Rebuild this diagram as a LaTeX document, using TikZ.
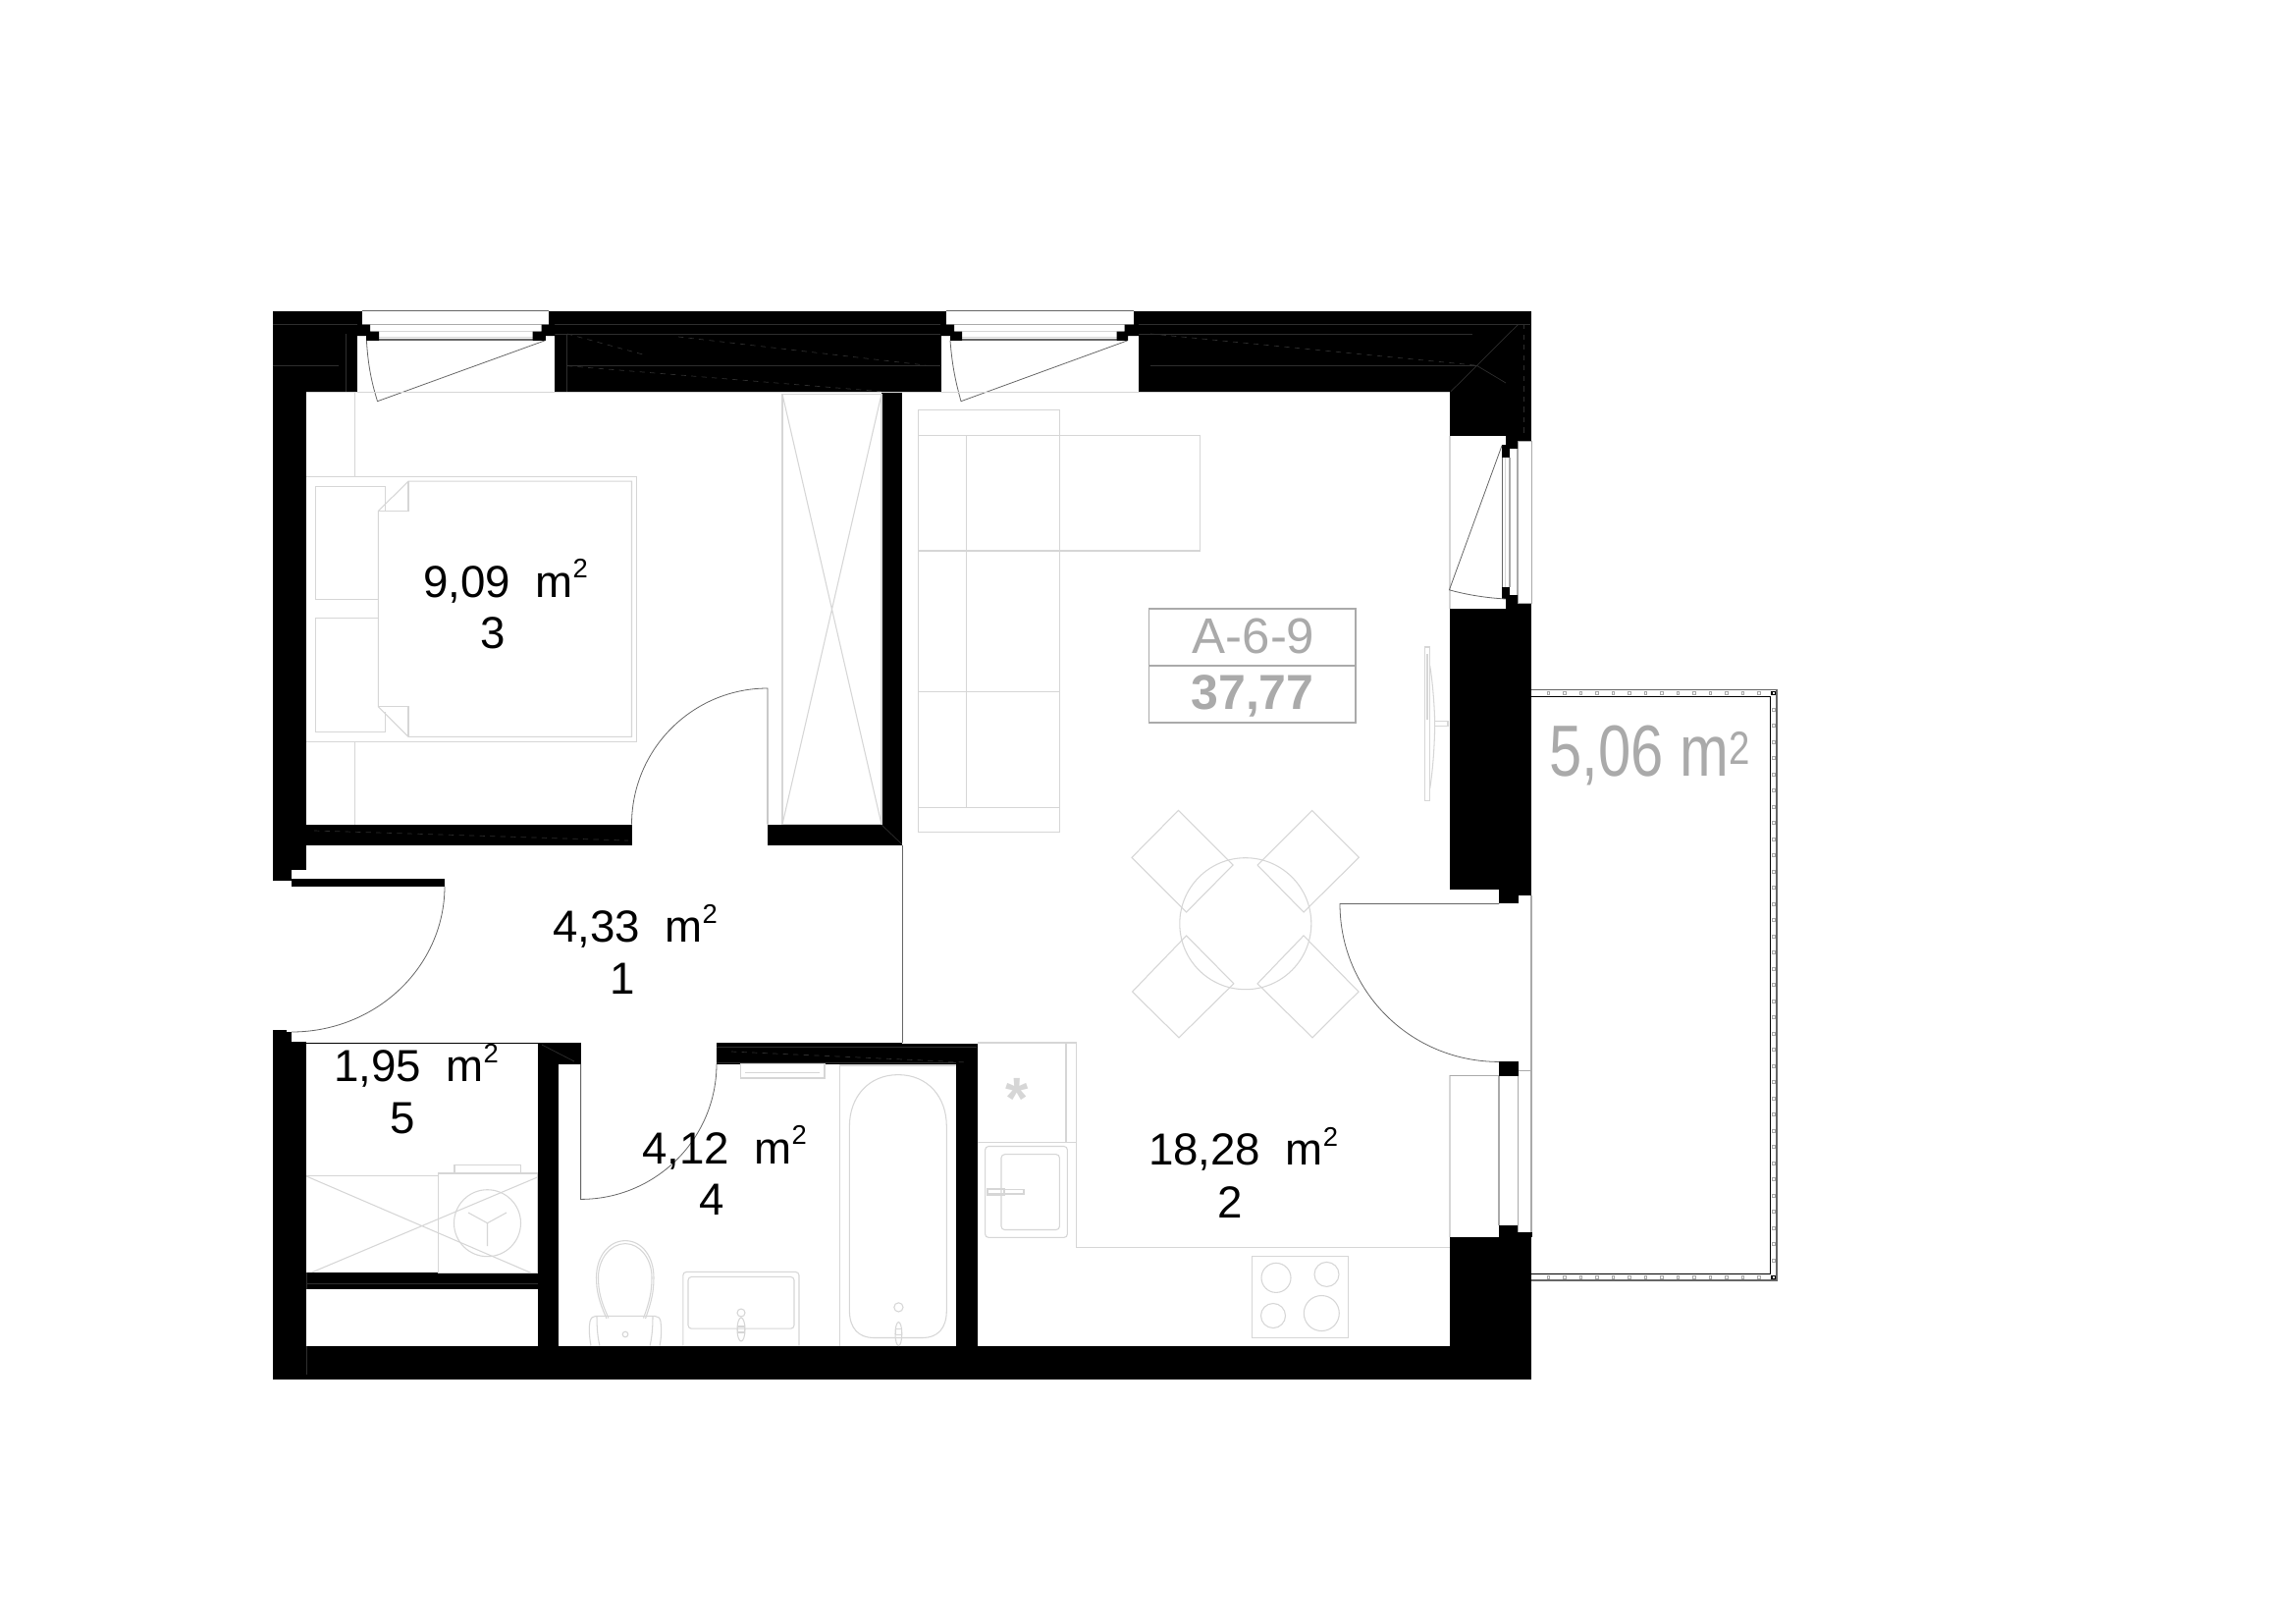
\documentclass[tikz,border=0pt]{standalone}
\usepackage{fontspec}
\setmainfont{Liberation Sans}
\definecolor{fur}{HTML}{D6D6D6}
\definecolor{dl}{HTML}{666666}
\definecolor{sign}{HTML}{AAAAAA}
\definecolor{wl}{HTML}{2E2E2E}
\tikzset{
  furn/.style={draw=fur,line width=0.6pt},
  thin gray/.style={draw=dl,line width=0.45pt},
  wallline/.style={draw=wl,line width=0.4pt},
  winl/.style={draw=sign,line width=0.6pt},
  tinybox/.style={draw=sign,line width=0.4pt},
  area/.style={inner sep=0,outer sep=0,anchor=base west,font=\fontsize{26}{26}\selectfont},
  num/.style={inner sep=0,outer sep=0,anchor=base,font=\fontsize{26}{26}\selectfont},
}
\newcommand{\sqm}[1]{#1\hspace{0.56em}m\raisebox{0.42em}{\fontsize{15.6}{15.6}\selectfont 2}}
\begin{document}
\begin{tikzpicture}[x=0.02cm,y=-0.02cm]
\useasboundingbox (0,0) rectangle (2339,1653);
\fill[white] (0,0) rectangle (2339,1653);
% ---- balcony
\draw[dl,line width=0.8pt] (1560,702.7) -- (1810,702.7) -- (1810,1304) -- (1560,1304);
\draw[black,line width=0.8pt] (1560,709.3) -- (1803.3,709.3) -- (1803.3,1297.5) -- (1560,1297.5);
\foreach \y in {721,737.5,...,1290} {\draw[tinybox] (1805.3,\y) rectangle (1808.2,\y+3);}
\foreach \x in {1576,1592.5,...,1800} {\draw[tinybox] (\x,1299.5) rectangle (\x+2.8,1302.3);\draw[tinybox] (\x,704.4) rectangle (\x+2.8,707.2);}
\draw[black,line width=0.7pt] (1805,704.4) rectangle (1808.2,707.2) (1805,1299.5) rectangle (1808.2,1302.3);
% ---- walls
\fill[black] (278,316.5) rectangle (1560,1404.6);
% ---- faint lines in the walls
\draw[wallline] (278,330) -- (364,330) (565,330) -- (958,330) (1160,330) -- (1559,330);
\draw[wallline] (565,340) -- (958,340) (1160,340) -- (1500,340);
\draw[wallline] (578,372.7) -- (958,372.7) (1172,372.7) -- (1505,372.7);
\draw[wallline] (278,372) -- (345,372);
\draw[wallline,dashed] (578,340) -- (655,361);
\draw[wallline,dashed] (691,343) -- (943,372);
\draw[wallline,dashed] (578,372.7) -- (898,398.7);
\draw[wallline,dashed] (1172,340) -- (1503,372);
\draw[wallline] (1478,398.7) -- (1546.4,330.6) (1505,372.7) -- (1534,390);
\draw[wallline,dashed] (1552,330) -- (1552,445);
\draw[wallline] (577,340) -- (577,399);
\draw[wallline] (352,340) -- (352,399);
\draw[wallline] (312,1063) -- (312,1400);
\draw[wallline] (898,840) -- (919,860);
\draw[wallline] (312,1307) -- (548,1307);
\draw[wallline] (552,1064) -- (585,1081);
\draw[wallline,dashed] (745,1071) -- (985,1082);
\draw[wallline] (730,1066) -- (995,1066) (730,1082) -- (974,1082);
\draw[wallline,dashed] (320,846) -- (640,856);
% ---- rooms
\fill[white] (312,399.5) rectangle (898,839.6);
\fill[white] (643.5,839.6) rectangle (782,860.7);
\fill[white] (312,860.7) rectangle (919.4,1062);
\fill[white] (297,885.7) rectangle (312,1061);
\fill[white] (270,897) rectangle (297,1051);
\fill[white] (919.4,399.5) rectangle (1477,1062.5);
\fill[white] (995.6,1062) rectangle (1477,1370.7);
\fill[white] (592,1062) rectangle (730,1084);
\fill[white] (312,1062.6) rectangle (548.4,1296.4);
\fill[white] (312,1312.9) rectangle (548.4,1370.7);
\fill[white] (568.8,1083.6) rectangle (974,1370.7);
% balcony door + lower window openings
\fill[white] (1477,906.4) rectangle (1527,1260);
\fill[white] (1527,920.4) rectangle (1561,1081.4);
\fill[white] (1546.7,911.8) rectangle (1561,1255.4);
\fill[white] (1527,1095.7) rectangle (1546.7,1247.5);
% top-window openings
\fill[white] (369,315) rectangle (559,330.6);
\fill[white] (377,330.6) rectangle (551.5,337.5);
\fill[white] (386,337.5) rectangle (542.6,347);
\fill[white] (364,342) rectangle (373.4,399.5);
\fill[white] (555.5,342) rectangle (565.4,399.5);
\fill[white] (373.4,346.7) rectangle (555.5,399.5);
\fill[white] (963.8,315) rectangle (1154.5,330.6);
\fill[white] (972,330.6) rectangle (1145.5,337.5);
\fill[white] (980,337.5) rectangle (1137.5,347);
\fill[white] (958.5,342) rectangle (968,399.5);
\fill[white] (1149,342) rectangle (1159.8,399.5);
\fill[white] (968,346.7) rectangle (1149,399.5);
% east window
\fill[white] (1477,443.5) rectangle (1534,620);
\fill[white] (1534,456.9) rectangle (1546,606.2);
\fill[white] (1546,449.3) rectangle (1561,614.6);
\fill[black] (1530,453) rectangle (1538,465.7);
\fill[black] (1530,597.7) rectangle (1538,610);
% entrance door leaf
\fill[black] (297,895) rectangle (453,902.5);
\fill[black] (278,1049.3) rectangle (291.5,1052);
% black blocks at the balcony door
\fill[black] (1527,1081.4) rectangle (1546.7,1095.7);
\fill[black] (1527,1247.5) rectangle (1546.7,1260);
\fill[black] (1546.7,1255.4) rectangle (1561,1260);
% ---- window detail lines
\foreach \xa/\xb/\xc/\xd/\xe/\xf in {369/559/377/551.5/386/542.6, 963.8/1154.5/972/1145.5/980/1137.5}{
  \draw[dl,line width=0.4pt] (\xa,316.5) -- (\xb,316.5);
  \draw[winl] (\xa,330.6) -- (\xb,330.6);
  \draw[fur,line width=0.6pt] (\xc,337.5) -- (\xd,337.5);
  \draw[dl,line width=0.7pt] (\xe,346) -- (\xf,346);
  \draw[fur,line width=0.4pt] (\xe,343) -- (\xf,343);
}
\draw[winl] (1546,449.3) rectangle (1560.5,614.6);
\draw[winl] (1538,465.7) -- (1538,597.7);
\draw[dl,line width=0.5pt] (1530,465.7) -- (1530,597.7);
\draw[fur,line width=0.4pt] (1533,465.7) -- (1533,597.7);
\draw[fur,line width=0.7pt] (1477,443.5) -- (1477,620);
\draw[fur,line width=0.7pt] (1477,1095.4) -- (1477,1260);
\draw[winl] (1477,1095.4) -- (1527,1095.4);
\draw[winl] (1527,1095.7) -- (1527,1247.5);
\draw[winl] (1546.7,1095.7) -- (1546.7,1255.4);
\draw[winl] (1546.7,1090.4) -- (1560,1090.4);
\draw[winl] (1560,911.8) -- (1560,1255.4);
\draw[black,line width=0.5pt] (312,1062) -- (548.4,1062);
% ---- bedroom
\draw[furn] (312,485.2) -- (648.4,485.2) -- (648.4,755.4) -- (312,755.4);
\draw[furn] (361.8,399.5) -- (361.8,485.2) (361.8,755.4) -- (361.8,839.6);
\draw[furn] (385.4,610.4) -- (321.6,610.4) -- (321.6,495.6) -- (392.6,495.6) -- (392.6,520);
\draw[furn] (385.4,629.9) -- (321.6,629.9) -- (321.6,745.1) -- (392.6,745.1) -- (392.6,725);
\draw[furn] (416,490.2) -- (643.5,490.2) -- (643.5,750.4) -- (416,750.4) -- (385.4,719.8) -- (385.4,520.4) -- cycle;
\draw[furn] (385.4,520.4) -- (416,520.4) -- (416,490.2);
\draw[furn] (385.4,719.8) -- (416,719.8) -- (416,750.4);
% closet
\draw[furn] (797,401.4) rectangle (898,839.6);
\draw[furn] (797,401.4) -- (898,839.6) (898,401.4) -- (797,839.6);
% sofa
\draw[furn] (935.7,417.9) rectangle (1079.5,847.3);
\draw[furn] (935.7,443.5) -- (1222.3,443.5) -- (1222.3,561) -- (935.7,561);
\draw[furn] (935.7,704.1) -- (1079.5,704.1) (935.7,822.4) -- (1079.5,822.4);
\draw[furn] (984.4,443.5) -- (984.4,822.4);
% table + chairs
\draw[furn] (1268.8,940.7) ellipse [x radius=67,y radius=67];
\draw[furn] (1200.4,825.4) -- (1256,881) -- (1208.6,929) -- (1153,873.3) -- cycle;
\draw[furn] (1336.6,825.4) -- (1384.4,873.3) -- (1328,929) -- (1281,881) -- cycle;
\draw[furn] (1208.6,952.9) -- (1256.8,1001.8) -- (1201,1056.8) -- (1153.5,1010) -- cycle;
\draw[furn] (1328,952.9) -- (1384,1010) -- (1337,1056.8) -- (1281,1001.8) -- cycle;
% TV
\draw[furn] (1451.8,659) rectangle (1456.7,815.5);
\draw[furn] (1456.7,678) .. controls (1460,698) and (1462,728) .. (1461.6,743) .. controls (1461,768) and (1459,788) .. (1456.7,803);
\draw[furn] (1461.6,734.4) rectangle (1475,739.3);
\draw[furn,line width=1pt] (1454,666) -- (1454,733);
% kitchen
\draw[furn] (995.6,1062) -- (1096.6,1062) -- (1096.6,1270.7) -- (1477,1270.7);
\draw[furn] (1086,1062) -- (1086,1163.2);
\draw[furn] (995.6,1163.2) -- (1096.6,1163.2);
\node[inner sep=0,text=fur] (star) at (1036,1119) {\fontsize{34}{34}\selectfont\bfseries *};
\draw[furn,rounded corners=2pt] (1003.6,1167.5) rectangle (1087.4,1260.4);
\draw[furn,rounded corners=2pt] (1020,1175.7) rectangle (1079.4,1252.5);
\draw[furn] (1006,1211.8) rectangle (1043,1216);
\draw[furn] (1006,1210.8) rectangle (1023,1217);
\draw[furn] (1275.7,1279.6) rectangle (1373.3,1362.5);
\draw[furn] (1300,1301.4) circle [radius=15];
\draw[furn] (1351.5,1297.9) circle [radius=12.5];
\draw[furn] (1297,1340) circle [radius=12.5];
\draw[furn] (1346.3,1337.5) circle [radius=18];
% bath
\draw[furn] (754.4,1083.6) rectangle (840,1098);
\draw[furn] (759,1092.9) -- (835,1092.9);
\draw[furn] (855.7,1370.7) -- (855.7,1085) -- (974,1085);
\draw[furn] (865.4,1147) .. controls (865.4,1117) and (885,1094.6) .. (915,1094.6) .. controls (945,1094.6) and (964.3,1117) .. (964.3,1147) -- (964.3,1335) .. controls (964.3,1353) and (955,1362.5) .. (940,1362.5) -- (890,1362.5) .. controls (875,1362.5) and (865.4,1353) .. (865.4,1335) -- cycle;
\draw[furn] (915.4,1331.4) circle [radius=4.6];
\draw[furn] (915.4,1358.5) ellipse [x radius=3.4,y radius=12];
\draw[furn] (912.4,1353.5) rectangle (918.4,1359.5);
\draw[furn,rounded corners=2pt] (695.8,1370.7) -- (695.8,1295.4) -- (814,1295.4) -- (814,1370.7);
\draw[furn,rounded corners=2pt] (701,1300.4) rectangle (809,1353.2);
\draw[furn] (755,1337) circle [radius=4];
\draw[furn] (755,1354) ellipse [x radius=4,y radius=12];
\draw[furn] (751.5,1351) rectangle (758.5,1357);
\draw[furn] (618,1343) .. controls (610,1325) and (607.5,1315) .. (607.5,1301) .. controls (607.5,1280) and (620,1263.6) .. (637,1263.6) .. controls (654,1263.6) and (666,1280) .. (666,1301) .. controls (666,1315) and (664,1325) .. (657.5,1343);
\draw[furn] (620,1342.5) .. controls (612,1325) and (609.5,1315) .. (609.5,1301) .. controls (609.5,1282) and (622,1266.6) .. (637,1266.6) .. controls (652,1266.6) and (664,1282) .. (664,1301) .. controls (664,1315) and (662,1325) .. (655.5,1342.5);
\draw[furn] (602,1370.7) .. controls (600,1360) and (600,1351) .. (601,1346) .. controls (602,1342) and (604,1340.4) .. (607,1340.4) -- (667,1340.4) .. controls (670,1340.4) and (672.5,1342) .. (673,1346) .. controls (674,1353) and (674,1361) .. (672,1370.7);
\draw[furn] (611,1370.7) .. controls (609,1363) and (608,1353) .. (608,1340.4) (665,1340.4) .. controls (665,1353) and (664,1363) .. (662,1370.7);
\draw[furn] (637,1359) circle [radius=2.8];
% laundry
\draw[furn] (446.6,1195) rectangle (547.4,1296.8);
\draw[furn] (463,1186.8) rectangle (530.5,1195);
\draw[furn] (312,1197.9) -- (446.6,1197.9);
\draw[furn] (496.5,1245.7) circle [radius=34];
\draw[furn] (496.5,1245.7) -- (477,1235) (496.5,1245.7) -- (516,1235) (496.5,1245.7) -- (496.5,1269);
\draw[furn] (312,1197.9) -- (541,1296.4) (547.4,1199) -- (318,1295.7);
% ---- doors
\draw[thin gray] (643.5,839.6) .. controls (643.5,763.1) and (705.5,701) .. (782,701) -- (782,839.6);
\draw[thin gray] (453,902.5) .. controls (453,984.5) and (383.2,1051) .. (297,1051);
\draw[thin gray] (591.6,1083.6) -- (591.6,1221.4) .. controls (668,1221.4) and (730,1159.7) .. (730,1083.6);
\draw[thin gray] (1527,920.4) -- (1365,920.4) .. controls (1365,1010) and (1437.5,1081.4) .. (1527,1081.4);
\draw[thin gray] (919,860.7) -- (919,1062);
% ---- window sashes
\draw[thin gray] (555.5,346.7) -- (384.5,408.7) .. controls (379,390.7) and (375,373.7) .. (373.4,346.7);
\draw[thin gray] (1149,346.7) -- (979,408.7) .. controls (974,390.7) and (970,373.7) .. (968,346.7);
\draw[thin gray] (1530,453.8) -- (1476.4,600.8) .. controls (1495,606) and (1515,609) .. (1534,610);
\draw[fur,line width=0.5pt] (312,399.5) -- (1477,399.5);
% ---- window black blocks
\fill[black] (364,330.6) rectangle (377,342) (373.4,337.5) rectangle (386,346.7);
\fill[black] (551.5,330.6) rectangle (565.4,342) (542.6,337.5) rectangle (555.5,346.7);
\fill[black] (958.5,330.6) rectangle (972,342) (968,337.5) rectangle (980,346.7);
\fill[black] (1145.5,330.6) rectangle (1159.8,342) (1137.5,337.5) rectangle (1149,346.7);
\fill[black] (1534,443.5) rectangle (1546,456.9) (1534,606.2) rectangle (1546,620.7);
% ---- sign
\draw[sign,line width=1pt] (1170.5,620) rectangle (1381,736.3);
\draw[sign,line width=1pt] (1170.5,678) -- (1381,678);
\node[inner sep=0,anchor=base,text=sign,font=\fontsize{29}{29}\selectfont] (code) at (1277,665.5) {A-6-9};
\node[inner sep=0,anchor=base,text=sign,font=\fontsize{28.5}{28.5}\selectfont\bfseries] (total) at (1276,722.9) {37,77};
\node[inner sep=0,anchor=base west,text=sign,xscale=0.81,font=\fontsize{42}{42}\selectfont] (balc) at (1578,790) {5,06 m\raisebox{6.8pt}{\fontsize{27}{27}\selectfont 2}};
% ---- areas
\node[area] (a3) at (431,608) {\sqm{9,09}};
\node[num] (n3) at (502,660.5) {3};
\node[area] (a1) at (563,959.5) {\sqm{4,33}};
\node[num] (n1) at (634,1012.5) {1};
\node[area] (a5) at (340,1101.8) {\sqm{1,95}};
\node[num] (n5) at (410,1154) {5};
\node[area] (a4) at (654,1185) {\sqm{4,12}};
\node[num] (n4) at (725,1237.9) {4};
\node[area] (a2) at (1170,1186.8) {\sqm{18,28}};
\node[num] (n2) at (1253,1240.4) {2};
\end{tikzpicture}
\end{document}
